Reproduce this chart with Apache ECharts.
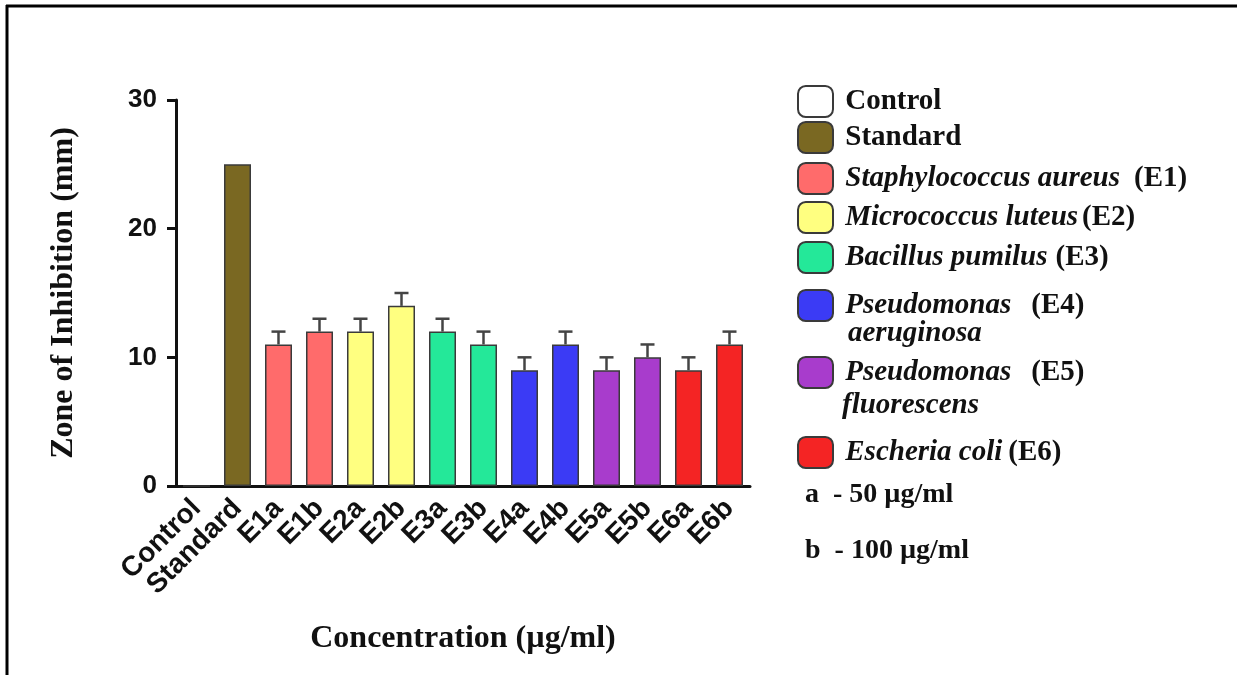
<!DOCTYPE html>
<html>
<head>
<meta charset="utf-8">
<script src="https://cdn.jsdelivr.net/npm/echarts@6/dist/echarts.min.js"></script>
<style>
html, body { margin: 0; padding: 0; background: #fff; }
#main { width: 1237px; height: 675px; }
</style>
</head>
<body>
<div id="main"></div>
<script>
var categories = ['Control', 'Standard', 'E1a', 'E1b', 'E2a', 'E2b', 'E3a', 'E3b', 'E4a', 'E4b', 'E5a', 'E5b', 'E6a', 'E6b'];
var values = [0, 25, 11, 12, 12, 14, 12, 11, 9, 11, 9, 10, 9, 11];
var errors = [0, 0, 1, 1, 1, 1, 1, 1, 1, 1, 1, 1, 1, 1];
// which legend group each bar belongs to
var groupOf = [0, 1, 2, 2, 3, 3, 4, 4, 5, 5, 6, 6, 7, 7];
var groupNames = ['Control', 'Standard', 'Staphylococcus aureus (E1)', 'Micrococcus luteus (E2)',
    'Bacillus pumilus (E3)', 'Pseudomonas aeruginosa (E4)', 'Pseudomonas fluorescens (E5)', 'Escheria coli (E6)'];
var groupColors = ['#ffffff', '#7a6822', '#ff6b6b', '#ffff80', '#24e899', '#3b3bf5', '#a83ccc', '#f42424'];

var serif = '"Liberation Serif", "Times New Roman", serif';
var sans = '"Liberation Sans", Arial, sans-serif';

var myChart = echarts.init(document.getElementById('main'));

var series = groupNames.map(function (name, g) {
    return {
        name: name,
        type: 'bar',
        stack: 'all',
        barWidth: 27,
        data: values.map(function (v, i) { return groupOf[i] === g ? v : '-'; }),
        itemStyle: {
            color: groupColors[g],
            borderColor: '#3a3a3a',
            borderWidth: 1.5
        }
    };
});

series.push({
    type: 'custom',
    name: 'err',
    z: 3,
    data: values.map(function (v, i) { return [i, v, errors[i]]; }),
    renderItem: function (params, api) {
        var e = api.value(2);
        if (!e) return;
        var base = api.coord([api.value(0), api.value(1)]);
        var top = api.coord([api.value(0), api.value(1) + e]);
        var st = { stroke: '#444', lineWidth: 2.5 };
        return {
            type: 'group',
            children: [
                { type: 'line', shape: { x1: base[0], y1: base[1], x2: top[0], y2: top[1] }, style: st },
                { type: 'line', shape: { x1: top[0] - 7, y1: top[1], x2: top[0] + 7, y2: top[1] }, style: st }
            ]
        };
    }
});

// legend: one component per entry so the rows can sit where the figure has them
var legendTops = [85, 121, 162, 201, 241, 289, 356, 436];
var legendText = [
    '{n|Control}',
    '{n|Standard}',
    '{i|Staphylococcus aureus}{e1|(E1)}',
    '{i|Micrococcus luteus}{e2|(E2)}',
    '{i|Bacillus pumilus}{e3|(E3)}',
    '{i|Pseudomonas}{e4|(E4)}',
    '{i|Pseudomonas}{e4|(E5)}',
    '{i|Escheria coli}{e6|(E6)}'
];
var rich = {
    n: { fontFamily: serif, fontWeight: 'bold', fontSize: 29, color: '#111' },
    i: { fontFamily: serif, fontWeight: 'bold', fontStyle: 'italic', fontSize: 29, color: '#111' },
    e1: { fontFamily: serif, fontWeight: 'bold', fontSize: 29, color: '#111', padding: [0, 0, 0, 14] },
    e2: { fontFamily: serif, fontWeight: 'bold', fontSize: 29, color: '#111', padding: [0, 0, 0, 4] },
    e3: { fontFamily: serif, fontWeight: 'bold', fontSize: 29, color: '#111', padding: [0, 0, 0, 8] },
    e4: { fontFamily: serif, fontWeight: 'bold', fontSize: 29, color: '#111', padding: [0, 0, 0, 20] },
    e6: { fontFamily: serif, fontWeight: 'bold', fontSize: 29, color: '#111', padding: [0, 0, 0, 6] }
};
var legends = groupNames.map(function (name, g) {
    return {
        data: [name],
        left: 797,
        top: legendTops[g],
        padding: 0,
        orient: 'vertical',
        itemWidth: 35,
        itemHeight: 31,
        selectedMode: false,
        icon: 'roundRect',
        itemStyle: { borderColor: '#3a3a3a', borderWidth: 2 },
        formatter: function () { return ' ' + legendText[g]; },
        textStyle: { rich: rich, fontSize: 29, fontFamily: serif }
    };
});

option = {
    backgroundColor: '#fff',
    animation: false,
    grid: {
        left: 176,
        top: 100,
        width: 574,
        height: 386
    },
    legend: legends,
    xAxis: {
        type: 'category',
        data: categories,
        name: 'Concentration (µg/ml)',
        nameLocation: 'middle',
        nameGap: 137,
        nameTextStyle: { fontFamily: serif, fontWeight: 'bold', fontSize: 32, color: '#111' },
        axisLine: { lineStyle: { color: '#111', width: 3 } },
        axisTick: { alignWithLabel: true, length: 9, lineStyle: { color: '#111', width: 3 } },
        axisLabel: {
            rotate: 45,
            interval: 0,
            margin: 18,
            fontFamily: sans,
            fontWeight: 'bold',
            fontSize: 28,
            color: '#111'
        }
    },
    yAxis: {
        type: 'value',
        min: 0,
        max: 30,
        interval: 10,
        name: 'Zone of Inhibition (mm)',
        nameLocation: 'middle',
        nameGap: 96,
        nameTextStyle: { fontFamily: serif, fontWeight: 'bold', fontSize: 32, color: '#111' },
        splitLine: { show: false },
        axisLine: { show: true, lineStyle: { color: '#111', width: 3 } },
        axisTick: { show: true, length: 9, lineStyle: { color: '#111', width: 3 } },
        axisLabel: {
            margin: 19,
            fontFamily: sans,
            fontWeight: 'bold',
            fontSize: 26,
            color: '#111'
        }
    },
    graphic: [
        { type: 'line', shape: { x1: 6, y1: 6, x2: 1237, y2: 6 }, style: { stroke: '#000', lineWidth: 3 } },
        { type: 'line', shape: { x1: 7, y1: 5, x2: 7, y2: 675 }, style: { stroke: '#000', lineWidth: 3 } },
        { type: 'text', left: 848, top: 319, style: { text: 'aeruginosa', font: 'italic bold 29px ' + serif, fill: '#111' } },
        { type: 'text', left: 842, top: 391, style: { text: 'fluorescens', font: 'italic bold 29px ' + serif, fill: '#111' } },
        { type: 'text', left: 805, top: 481, style: { text: 'a  - 50 µg/ml', font: 'bold 28px ' + serif, fill: '#111' } },
        { type: 'text', left: 805, top: 537, style: { text: 'b  - 100 µg/ml', font: 'bold 28px ' + serif, fill: '#111' } }
    ],
    series: series
};

myChart.setOption(option);
</script>
</body>
</html>
